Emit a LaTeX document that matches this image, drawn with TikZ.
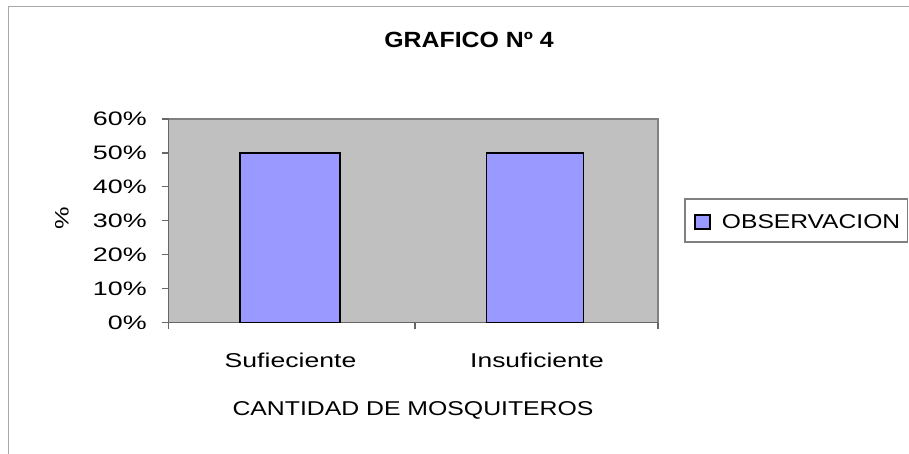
\documentclass[tikz,border=0pt]{standalone}
\usepackage{fontspec}
\setmainfont{Liberation Sans}
\usepackage{xcolor}
\definecolor{plotgray}{HTML}{C0C0C0}
\definecolor{axisgray}{HTML}{808080}
\definecolor{framegray}{HTML}{A8A8A8}
\definecolor{barblue}{HTML}{9999FF}
\newcommand{\wide}[2]{\scalebox{#1}[1]{#2}}

\begin{document}
\begin{tikzpicture}[x=0.75pt,y=0.75pt]
    \useasboundingbox (0,0) rectangle (909,453);
    % chart frame
    \draw[framegray, line width=1.1pt] (8.7,-5) -- (8.7,446.3) -- (915,446.3);
    \node[font=\bfseries\fontsize{16.5}{18}\selectfont, anchor=base] (title) at (469,405) {\wide{1.13}{GRAFICO Nº 4}};

    % plot area
    \fill[plotgray] (168.5,130.3) rectangle (658,334);
    \draw[axisgray, line width=0.9pt] (168.5,334) -- (658,334) -- (658,130.3);
    \draw[axisgray!80!black, line width=0.9pt] (168.5,334) -- (168.5,130.3) -- (658,130.3);

    % y axis
    \foreach \p/\t in {0/0,1/10,2/20,3/30,4/40,5/50,6/60}
    {
        \draw[axisgray!80!black, line width=0.9pt] (161.7,130.3+33.95*\p) -- (168.5,130.3+33.95*\p);
        \node[anchor=east, inner sep=0pt, font=\fontsize{14.6}{16}\selectfont] (ytick\p) at (147,130.3+33.95*\p) {\wide{1.38}{\t\%}};
    }
    \node[rotate=90, font=\fontsize{14.6}{16}\selectfont] (ylabel) at (62,235) {\wide{1.3}{\%}};

    % x axis
    \foreach \x in {168.5,415,658}
        \draw[axisgray!80!black, line width=0.9pt] (\x,130.3) -- (\x,123.5);
    \node[anchor=base, font=\fontsize{15}{17}\selectfont] (catA) at (290.5,85) {\wide{1.33}{Sufieciente}};
    \node[anchor=base, font=\fontsize{15}{17}\selectfont] (catB) at (537,85) {\wide{1.32}{Insuficiente}};
    \node[anchor=base, font=\fontsize{15}{17}\selectfont] (xlabel) at (413,38) {\wide{1.24}{CANTIDAD DE MOSQUITEROS}};

    % bars
    \draw[black, line width=1.1pt, fill=barblue] (240,130.3) rectangle (340,300.05);
    \draw[black, line width=1.1pt, fill=barblue] (486.7,130.3) rectangle (583.3,300.05);

    % legend
    \draw[axisgray, line width=0.8pt, fill=white] (685,254) rectangle (907.5,211);
    \draw[black, line width=0.9pt, fill=barblue] (695,238) rectangle (710,224);
    \node[anchor=base west, inner sep=0pt, font=\fontsize{15}{17}\selectfont] (legend) at (721.7,224.5) {\wide{1.23}{OBSERVACION}};
\end{tikzpicture}
\end{document}
